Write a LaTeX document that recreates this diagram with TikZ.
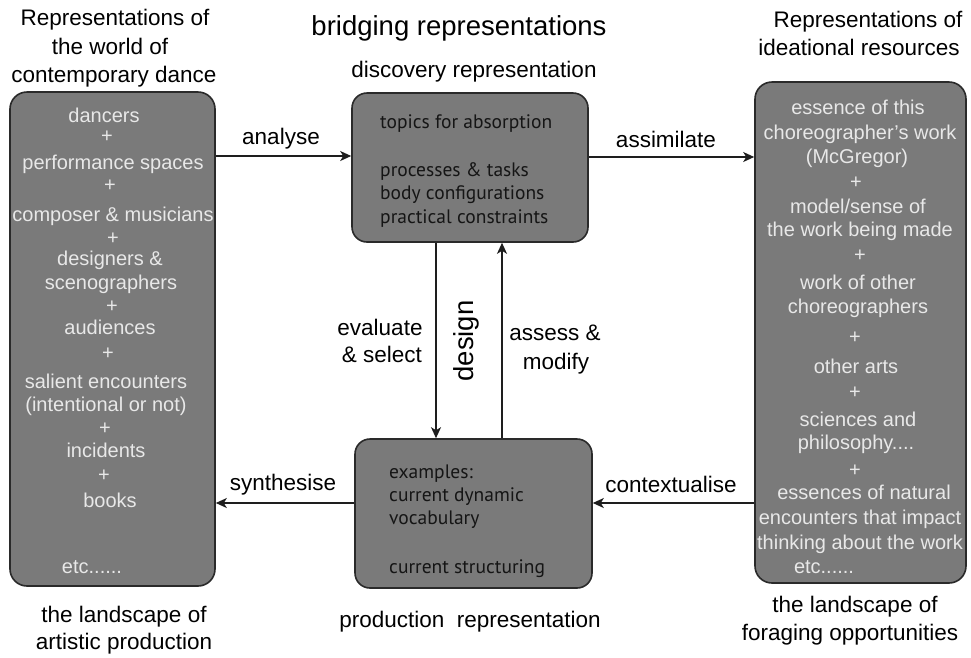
\documentclass[tikz,border=0pt]{standalone}
\usepackage{fontspec}
\setmainfont{Liberation Sans}
\newfontfamily\myriad{PT Sans}
\usetikzlibrary{arrows.meta}
\definecolor{boxfill}{HTML}{7A7A7A}
\definecolor{boxline}{HTML}{2A2A2A}
\definecolor{wtext}{HTML}{E8E8E8}
\definecolor{mtext}{HTML}{151515}
\definecolor{arrline}{HTML}{1E1E1E}
\tikzset{
  sidebox/.style={draw=boxline, fill=boxfill, line width=1.6pt, rounded corners=17pt, inner sep=0pt},
  midbox/.style={draw=boxline, fill=boxfill, line width=1.6pt, rounded corners=15pt, inner sep=0pt},
  wtxt/.style={anchor=base, text=wtext, font=\fontsize{20}{24}\selectfont, inner sep=0pt},
  mtxt/.style={anchor=base west, text=mtext, font=\myriad\fontsize{19.5}{23}\selectfont, inner sep=0pt},
  lbl/.style={anchor=base, text=black, font=\fontsize{22.5}{27}\selectfont, inner sep=0pt},
  arr/.style={line width=1.6pt, draw=arrline, -{Stealth[length=11pt,width=10pt,inset=3pt]}},
}
\newcommand{\sixdots}{etc......}
\newcommand{\fourdots}{philosophy....}
\newcommand{\modelsense}{model/sense of}
\begin{document}
\begin{tikzpicture}[x=1pt,y=-1pt]
\fill[white] (0,0) rectangle (971,657);
\useasboundingbox (0,0) rectangle (971,657);

% boxes
\node[sidebox, minimum width=205pt, minimum height=494pt] (L) at (112.5,339) {};
\node[sidebox, minimum width=211pt, minimum height=501pt] (R) at (860.5,332.5) {};
\node[midbox, minimum width=236pt, minimum height=149pt] (T) at (470,167.5) {};
\node[midbox, minimum width=237pt, minimum height=149pt] (B) at (473.5,513.5) {};

% left box text
\foreach \xx/\yy/\txt [count=\i] in {
  104/122/dancers, 107/142/+, 113/169.5/performance spaces, 110/191/+,
  113/221.5/{composer \& musicians}, 113/244.5/+, 110/265.5/{designers \&},
  111/289.5/scenographers, 112/312.5/+, 110/334.5/audiences, 108/359.5/+,
  106/388.5/salient encounters, 106/411.5/{(intentional or not)}, 105/434.5/+,
  106/457.5/incidents, 104/481.5/+, 110/507.5/books, 92/573.5/\sixdots}
  \node[wtxt] (l\i) at (\xx,\yy) {\txt};

% right box text
\foreach \xx/\yy/\txt [count=\i] in {
  858/114.5/essence of this, 860/139.5/{choreographer’s work}, 857/163.5/(McGregor),
  856/188.5/+, 858/213.5/\modelsense, 860/236.5/the work being made, 860/261.5/+,
  858/289.5/work of other, 858/313.5/choreographers, 855/343.5/+, 856/373.5/other arts,
  855/398.5/+, 858/426.5/sciences and, 856/449.5/\fourdots, 855/476.5/+,
  864/499.5/essences of natural, 860/524.5/encounters that impact,
  860/549.5/thinking about the work, 824/573.5/\sixdots}
  \node[wtxt] (r\i) at (\xx,\yy) {\txt};

% middle boxes text
\node[mtxt] (t1) at (380,128) {topics for absorption};
\node[mtxt] (t2) at (380,176) {processes \& tasks};
\node[mtxt] (t3) at (380,199) {body configurations};
\node[mtxt] (t4) at (380,223) {practical constraints};
\node[mtxt] (b1) at (389,478) {examples:};
\node[mtxt] (b2) at (389,501) {current dynamic};
\node[mtxt] (b3) at (389,524) {vocabulary};
\node[mtxt] (b4) at (389,573) {current structuring};

% outer labels
\node[lbl, font=\fontsize{27.5}{33}\selectfont] (title) at (459,35) {bridging representations};
\node[lbl] (disc) at (474,77.5) {discovery representation};
\node[lbl] (prod) at (470,627.5) {production\ \ representation};
\node[lbl] (lt1) at (115,25.5) {Representations of};
\node[lbl] (lt2) at (110,54.5) {the world of};
\node[lbl] (lt3) at (114,82.5) {contemporary dance};
\node[lbl] (rt1) at (868,27.5) {Representations of};
\node[lbl] (rt2) at (859,55.5) {ideational resources};
\node[lbl] (lb1) at (124,622.5) {the landscape of};
\node[lbl] (lb2) at (124,649.5) {artistic production};
\node[lbl] (rb1) at (855,612.5) {the landscape of};
\node[lbl] (rb2) at (850,640.5) {foraging opportunities};

% arrow labels
\node[lbl] (an) at (281,144.5) {analyse};
\node[lbl] (as) at (666,147.5) {assimilate};
\node[lbl] (sy) at (283,490.5) {synthesise};
\node[lbl] (co) at (671,492.5) {contextualise};
\node[lbl] (ev1) at (380,335.5) {evaluate};
\node[lbl] (ev2) at (382,362.5) {\& select};
\node[lbl] (am1) at (555,340.5) {assess \&};
\node[lbl] (am2) at (556,369.5) {modify};
\node[anchor=center, inner sep=0pt, font=\fontsize{27.5}{33}\selectfont, rotate=90] (des) at (466,341) {design};

% connector guides
\coordinate (ya) at (0,156);
\coordinate (yb) at (0,157);
\coordinate (yc) at (0,503);
\coordinate (xd) at (436,0);
\coordinate (xu) at (502,0);

\draw[arr] (L.east |- ya) -- (T.west |- ya);
\draw[arr] (T.east |- yb) -- (R.west |- yb);
\draw[arr] (B.west |- yc) -- (L.east |- yc);
\draw[arr] (R.west |- yc) -- (B.east |- yc);
\draw[arr] (T.south -| xd) -- (B.north -| xd);
\draw[arr] (B.north -| xu) -- (T.south -| xu);
\end{tikzpicture}
\end{document}
